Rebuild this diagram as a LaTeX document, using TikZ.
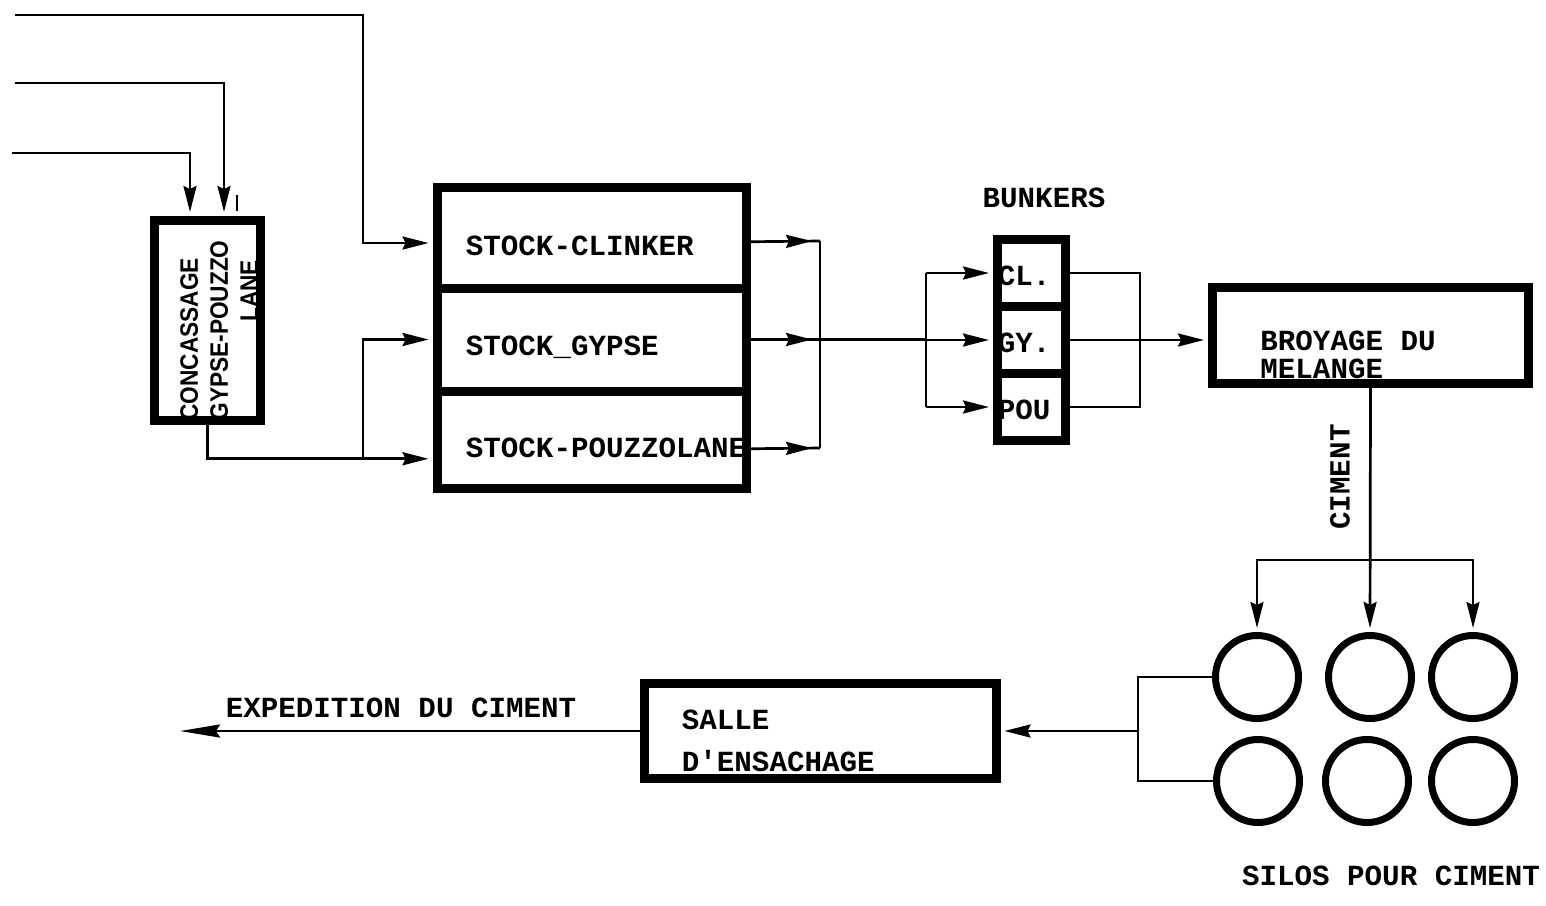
\documentclass[tikz,border=0pt]{standalone}
\usepackage{fontspec}
\setmonofont{Liberation Mono}
\newfontfamily\condfont{Liberation Sans}[FakeStretch=0.9]
\usetikzlibrary{arrows.meta,decorations.markings,positioning}

\def\typew{\ttfamily\bfseries}
\tikzset{
  txt/.style={font=\fontsize{14.6}{17}\selectfont\typew,inner sep=0pt},
  conctxt/.style={font=\fontsize{12.6}{15}\selectfont\condfont\bfseries,inner sep=0pt},
  box/.style={draw,line width=4.5pt,rectangle,inner sep=0pt},
  silo/.style={draw,line width=3.5pt,circle,minimum size=41.5pt,inner sep=0pt},
  pipe/.style={line width=1.35pt},
  flow/.style={line width=1.35pt,shorten >=2pt,-{Stealth[length=13pt,width=6.5pt,inset=1.5pt]}},
  tipat/.style={line width=1.35pt,postaction={decorate},
    decoration={markings,mark=at position #1 with {\arrow{Stealth[length=13pt,width=6.5pt,inset=1.5pt]}}}}
}

\begin{document}
\begin{tikzpicture}[x=0.5pt,y=-0.5pt]
\useasboundingbox (0,0) rectangle (1546,905);

\node[box,minimum width=53pt,minimum height=100pt] (conc) at (207.5,320.5) {};
\node[box,minimum width=154.5pt,minimum height=50.25pt] (clinker) at (591.5,237.75) {};
\node[box,minimum width=154.5pt,minimum height=51.5pt] (gypse) at (591.5,339.5) {};
\node[box,minimum width=154.5pt,minimum height=48.75pt] (pouzz) at (591.5,439.75) {};
\node[box,minimum width=34pt,minimum height=33.5pt] (cl) at (1031.5,273) {};
\node[box,minimum width=34pt,minimum height=33.5pt] (gy) at (1031.5,340) {};
\node[box,minimum width=34pt,minimum height=33.5pt] (pou) at (1031.5,407) {};
\node[box,minimum width=158pt,minimum height=48pt] (broyage) at (1370.5,335.5) {};
\node[box,minimum width=176pt,minimum height=47.5pt] (salle) at (820,731) {};
\foreach \n/\x/\y in {s1/1257/677,s2/1370/677,s3/1473/677,s4/1258/781,s5/1367/781,s6/1473/781}
  \node[silo] (\n) at (\x,\y) {};

\node[conctxt,rotate=90,anchor=west,align=left] (conc-t) at (219,421) {CONCASSAGE\\GYPSE-POUZZO\\\hspace*{49.5pt}LANE};
\node[txt,anchor=west] (clinker-t) at ([xshift=16.5pt,yshift=-4pt]clinker.west) {STOCK-CLINKER};
\node[txt,anchor=west] (gypse-t) at ([xshift=16.5pt,yshift=-4pt]gypse.west) {STOCK\_GYPSE};
\node[txt,anchor=west] (pouzz-t) at ([xshift=16.5pt,yshift=-4pt]pouzz.west) {STOCK-POUZZOLANE};
\node[txt] (bunkers) at (1044,198) {BUNKERS};
\node[txt,anchor=west] (cl-t) at ([xshift=2.25pt,yshift=-1.5pt]cl.west) {CL.};
\node[txt,anchor=west] (gy-t) at ([xshift=2.25pt,yshift=-1.5pt]gy.west) {GY.};
\node[txt,anchor=west] (pou-t) at ([xshift=2.25pt,yshift=-1.5pt]pou.west) {POU};
\node[txt,anchor=west,align=left,font=\fontsize{14.6}{14}\selectfont\typew] (broyage-t) at ([xshift=26pt,yshift=-9.5pt]broyage.west) {BROYAGE DU\\MELANGE};
\node[txt,rotate=90] (ciment) at (1340,477) {CIMENT};
\node[txt] (silos) at (1391,876) {SILOS POUR CIMENT};
\node[txt,anchor=west,align=left,font=\fontsize{14.6}{21}\selectfont\typew] (salle-t) at ([xshift=21pt,yshift=-5pt]salle.west) {SALLE\\D'ENSACHAGE};
\node[txt] (exped) at (401,708) {EXPEDITION DU CIMENT};

\coordinate (in1) at (15,15);
\coordinate (in2) at (15,83);
\coordinate (in3) at (12,153);
\coordinate (split) at (363,458);
\coordinate (c1) at (820,241);
\coordinate (c3) at (820,448);
\coordinate (b1) at (926,273);
\coordinate (b3) at (926,407);
\coordinate (r3) at (1140,407);
\coordinate (dist) at (1370,560);
\coordinate (sbus) at (1138,731);
\coordinate (ship) at (176,731);

\draw[flow] (in1) -| (363,243) -- (clinker.west |- 363,243);
\draw[flow] (in2) -| ([xshift=8.25pt]conc.north);
\draw[flow] (in3) -| ([xshift=-8.75pt]conc.north);
\draw[pipe] ([xshift=14.75pt,yshift=2.5pt]conc.north) -- ++(0,-16);
\draw[flow] (conc.south) |- ([yshift=-9.5pt]pouzz.west);
\draw[flow] (split) |- (gypse.west);

\draw[tipat=-4pt] ([yshift=-2pt]clinker.east) -- (c1);
\draw[tipat=-4pt] ([yshift=-4.5pt]pouzz.east) -- (c3);
\draw[pipe] (c1) -- (c3);
\draw[tipat=-57pt] (gypse.east) -- (gypse.east -| b1);
\draw[pipe] (b1) -- (b3);
\draw[flow] (b1) -- (cl.west);
\draw[flow] (gy.west -| b1) -- (gy.west);
\draw[flow] (b3) -- (pou.west);
\draw[pipe] (cl.east) -| (r3) -- (pou.east);
\draw[flow] (gy.east) -- (gy.east -| broyage.west);

\draw[flow] (broyage.south) -- (s2.north);
\draw[flow] (dist) -| (s1.north);
\draw[flow] (dist) -| (s3.north);
\draw[pipe] (s1.west) -| (sbus) |- (s4.west);
\draw[flow] (sbus) -- (salle.east);
\draw[flow,-{Stealth[length=20pt,width=6.5pt,inset=2pt]}] (salle.west) -- (ship);
\end{tikzpicture}
\end{document}
